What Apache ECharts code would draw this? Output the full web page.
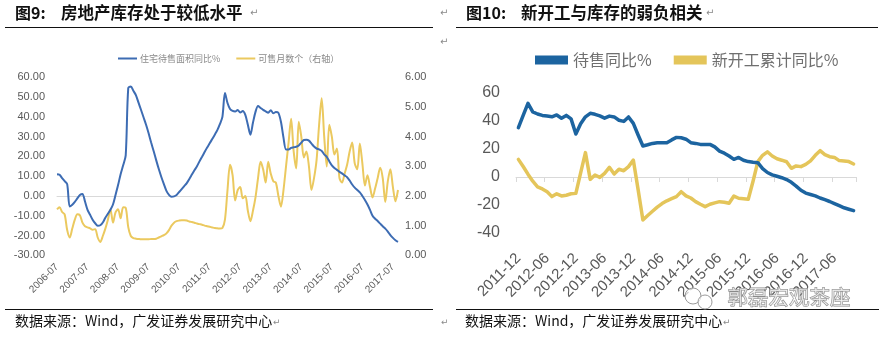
<!DOCTYPE html>
<html><head><meta charset="utf-8">
<script src="https://cdn.jsdelivr.net/npm/echarts@6/dist/echarts.min.js"></script>
<style>html,body{margin:0;padding:0;background:#fff}#c{width:879px;height:337px}</style>
</head><body><div id="c"></div>
<script>
// ---------- data ----------
function monthRange(y, m, n) {
  const out = [];
  for (let k = 0; k < n; k++) {
    const mm = m + k, yy = y + Math.floor((mm - 1) / 12), mo = ((mm - 1) % 12) + 1;
    out.push(yy + '-' + (mo < 10 ? '0' : '') + mo);
  }
  return out;
}
// Fig 9 categories: 2006-07 .. 2017-09 (monthly)
const leftMonths = monthRange(2006, 7, 135);
// 住宅待售面积同比 %  (left axis)
const inventoryYoY = [
  11, 10.7, 9, 7.5, 6, -5.3, -4.4, -3, -1.2, 0.5,
  1, -2.8, -7, -9.5, -12, -13.8, -15, -14.8, -13.4, -11,
  -9, -7, -4.3, 0.5, 5.5, 11, 15.5, 20.5, 54.5, 55.4,
  53.2, 51, 47.3, 43.6, 39.8, 36, 31.7, 27, 22.6, 18,
  13.6, 9.6, 6, 2.6, 0.6, -0.4, -0.2, 0.5, 2, 3.5,
  5, 6.5, 8.6, 10.8, 13, 15, 17.5, 19.8, 22.2, 24.5,
  26.6, 28.8, 31, 33.3, 36.3, 40, 52, 47, 44, 43,
  42.7, 43.5, 42.2, 43, 41, 36, 31, 37, 42.5, 45.5,
  44.5, 43.5, 42.8, 42.1, 43.4, 41.8, 42.4, 42, 37.5, 29.5,
  23.5, 23.5, 24.3, 24.6, 24.9, 25.5, 27, 28.3, 28.4, 28,
  26.5, 25, 24, 23.6, 22.8, 21, 19.8, 17.5, 15.5, 14.2,
  13.2, 12.2, 11.4, 10.4, 9.5, 7.8, 5.8, 4.2, 3, 1.8,
  0, -2, -4.3, -7, -10, -11.5, -12.7, -14, -15.3, -16.5,
  -18, -19.8, -21.2, -22.4, -23.2
];
// 可售月数 个 (right axis)
const monthsOfSupply = [
  1.55, 1.62, 1.46, 1.38, 0.85, 0.6, 0.9, 1.2, 1.38, 1.35,
  1.1, 0.98, 0.94, 0.91, 0.86, 0.88, 0.6, 0.45, 0.65, 0.9,
  1.2, 1.55, 1.1, 1.45, 1.55, 1.25, 1.62, 1.6, 0.95, 0.65,
  0.58, 0.56, 0.55, 0.54, 0.54, 0.54, 0.54, 0.55, 0.55, 0.56,
  0.6, 0.64, 0.68, 0.74, 0.85, 1.0, 1.1, 1.15, 1.17, 1.18,
  1.18, 1.17, 1.14, 1.12, 1.1, 1.07, 1.05, 1.03, 1.0, 0.98,
  0.96, 0.94, 0.92, 0.91, 0.9, 0.92, 1.2, 2.2, 3.05, 2.7,
  1.85, 2.2, 2.3, 1.92, 2.0, 1.5, 1.15, 1.5, 1.95, 2.6,
  3.15, 2.9, 2.45, 3.15, 2.75, 2.5, 2.45, 2.0, 1.64, 2.2,
  3.0, 3.8, 4.6, 3.5, 2.93, 4.5, 4.0, 3.3, 3.5, 3.0,
  2.2, 2.6, 3.21, 4.4, 5.29, 4.0, 2.99, 4.4, 4.0, 3.4,
  3.6, 2.6, 2.45, 2.75, 3.05, 3.5, 3.8, 3.1, 2.9, 3.77,
  3.1, 2.35, 2.7, 2.3, 1.95, 2.25, 2.6, 2.95, 2.6, 1.8,
  2.5, 2.9, 2.3, 1.82, 2.2
];
// Fig 10 categories: 2011-12 .. 2017-10 (monthly)
const rightMonths = monthRange(2011, 12, 71);
// 待售同比 %
const stockYoY = [
  35.2, 44, 52.6, 46.5, 45, 44, 43.5, 43, 44.3, 42,
  44, 41.5, 30.7, 38, 43, 45.5, 44.8, 43.6, 42, 43.5,
  42.9, 40.5, 39.7, 42.9, 38.3, 30, 22.1, 23, 24, 24.5,
  24.5, 24.5, 26.5, 28.3, 28, 27, 24.5, 24, 23.3, 23.3,
  23.3, 21.5, 18.5, 17, 15, 12.6, 14, 12, 11, 10.5,
  10.2, 6, 3.2, 1.5, 0.5, -0.5, -1.8, -3.8, -6.5, -9.5,
  -11.5, -12.5, -13.5, -15, -16.2, -17.5, -19, -20.5, -22, -23,
  -24
];
// 新开工累计同比 %
const newStartsYoY = [
  12.6, 7.5, 2, -3, -7, -8.5, -10.5, -14, -12, -13.5,
  -13, -12, -11.7, 3, 17.4, -1.7, 1.4, -0.3, 2.6, 6.9,
  2.1, 5.5, 4.5, 7.4, 12.1, -9, -30.7, -27.5, -24.5, -21.5,
  -19, -17, -15.5, -14, -10.5, -13.5, -15, -17.6, -19.5, -21.2,
  -19.5, -18.5, -17.6, -18, -18.8, -13.6, -15.2, -15.5, -15.9, -3,
  11, 15.5, 18, 15, 13, 12, 10.9, 6.2, 7.9, 7.4,
  9, 11.5, 15.5, 18.8, 16, 14.5, 14, 11.7, 11.5, 11,
  9.3
];
const leftSeriesNames = ['住宅待售面积同比%', '可售月数个（右轴）'];
const rightSeriesNames = ['待售同比%', '新开工累计同比%'];
const titlePrefixes = ['图9:', '图10:'];
const titles = ['房地产库存处于较低水平', '新开工与库存的弱负相关'];
const sourceText = '数据来源：Wind，广发证券发展研究中心';
const watermark = '郭磊宏观茶座';

// ---------- chart ----------
const chart = echarts.init(document.getElementById('c'), null, {renderer: 'canvas', width: 879, height: 337});
const FONT = 'Liberation Sans, Arial, Noto Sans CJK SC, sans-serif';
const CJK = 'Noto Sans CJK SC, sans-serif';
const L_BLUE = '#3d6cb3', L_YEL = '#ebc95f', R_BLUE = '#1c64a0', R_YEL = '#e4c55a';
const retMark = (x, y, size) => ({type: 'text', left: x, top: y,
  style: {text: '↵', font: size + 'px DejaVu Sans', fill: '#8a8a8a'}});

const option = {
  backgroundColor: '#fff',
  animation: false,
  grid: [
    {left: 57, top: 77.3, width: 341, height: 178, containLabel: false, outerBoundsMode: 'none'},
    {left: 516, top: 93, width: 340, height: 140, containLabel: false, outerBoundsMode: 'none'}
  ],
  legend: [
    {data: leftSeriesNames, left: 113, top: 49, itemWidth: 19, itemHeight: 2, itemGap: 16, icon: 'rect',
     textStyle: {fontSize: 9, color: '#8a8a8a', fontFamily: CJK, padding: [0, 0, 0, -2]}},
    {data: rightSeriesNames, left: 530, top: 47, itemWidth: 33, itemHeight: 9, itemGap: 22, icon: 'rect',
     textStyle: {fontSize: 16, color: '#6f6f6f', fontFamily: CJK}}
  ],
  xAxis: [
    {gridIndex: 0, type: 'category', data: leftMonths, boundaryGap: false,
     axisLine: {onZero: true, lineStyle: {color: '#d9d9d9', width: 1}},
     axisTick: {show: false},
     axisLabel: {interval: 11, rotate: 45, margin: 10, fontSize: 10, color: '#595959', fontFamily: FONT},
     splitLine: {show: false}},
    {gridIndex: 1, type: 'category', data: rightMonths, boundaryGap: true,
     axisLine: {onZero: true, lineStyle: {color: '#d9d9d9', width: 1}},
     axisTick: {show: true, interval: 5, length: 5, lineStyle: {color: '#d9d9d9'}},
     axisLabel: {interval: 5, rotate: 45, margin: 23, fontSize: 15, color: '#595959', fontFamily: FONT},
     splitLine: {show: false}}
  ],
  yAxis: [
    {gridIndex: 0, type: 'value', min: -30, max: 60, interval: 10,
     axisLine: {show: false}, axisTick: {show: false}, splitLine: {show: false},
     axisLabel: {formatter: v => v.toFixed(2), fontSize: 11, color: '#595959', margin: 12, fontFamily: FONT}},
    {gridIndex: 0, type: 'value', position: 'right', min: 0, max: 6, interval: 1,
     axisLine: {show: false}, axisTick: {show: false}, splitLine: {show: false},
     axisLabel: {formatter: v => v.toFixed(2), fontSize: 11, color: '#595959', margin: 7, fontFamily: FONT}},
    {gridIndex: 1, type: 'value', min: -40, max: 60, interval: 20,
     axisLine: {show: false}, axisTick: {show: false}, splitLine: {show: false},
     axisLabel: {fontSize: 16, color: '#595959', margin: 16, fontFamily: FONT}}
  ],
  series: [
    {name: leftSeriesNames[0], type: 'line', xAxisIndex: 0, yAxisIndex: 0, data: inventoryYoY,
     smooth: 0.3, showSymbol: false, lineStyle: {color: L_BLUE, width: 2}, itemStyle: {color: L_BLUE}, z: 3},
    {name: leftSeriesNames[1], type: 'line', xAxisIndex: 0, yAxisIndex: 1, data: monthsOfSupply,
     smooth: 0.3, showSymbol: false, lineStyle: {color: L_YEL, width: 2}, itemStyle: {color: L_YEL}, z: 2},
    {name: rightSeriesNames[0], type: 'line', xAxisIndex: 1, yAxisIndex: 2, data: stockYoY,
     showSymbol: false, lineStyle: {color: R_BLUE, width: 3.5, join: 'round', cap: 'round'}, itemStyle: {color: R_BLUE}, z: 3},
    {name: rightSeriesNames[1], type: 'line', xAxisIndex: 1, yAxisIndex: 2, data: newStartsYoY,
     showSymbol: false, lineStyle: {color: R_YEL, width: 3.5, join: 'round', cap: 'round'}, itemStyle: {color: R_YEL}, z: 2}
  ],
  graphic: [
    {type: 'text', left: 15, top: 5, style: {text: titlePrefixes[0], font: 'bold 16px ' + CJK, fill: '#111'}},
    {type: 'text', left: 61, top: 4.5, style: {text: titles[0], font: 'bold 16.5px ' + CJK, fill: '#111'}},
    {type: 'text', left: 466, top: 5, style: {text: titlePrefixes[1], font: 'bold 16px ' + CJK, fill: '#111'}},
    {type: 'text', left: 521, top: 4.5, style: {text: titles[1], font: 'bold 16.5px ' + CJK, fill: '#111'}},
    retMark(250, 8, 10), retMark(706, 8, 10), retMark(440, 8, 10), retMark(440, 37, 10),
    {type: 'line', shape: {x1: 5, y1: 27.5, x2: 433, y2: 27.5}, style: {stroke: '#111', lineWidth: 1}},
    {type: 'line', shape: {x1: 456, y1: 27.5, x2: 878, y2: 27.5}, style: {stroke: '#111', lineWidth: 1}},
    {type: 'line', shape: {x1: 5, y1: 309.5, x2: 433, y2: 309.5}, style: {stroke: '#111', lineWidth: 1}},
    {type: 'line', shape: {x1: 456, y1: 309.5, x2: 879, y2: 309.5}, style: {stroke: '#111', lineWidth: 1}},
    {type: 'text', left: 15, top: 314, style: {text: sourceText, font: '14px ' + CJK, fill: '#111'}},
    {type: 'text', left: 465, top: 314, style: {text: sourceText, font: '14px ' + CJK, fill: '#111'}},
    retMark(273, 318, 9), retMark(723, 318, 9), retMark(441, 318, 9),
    // watermark
    {type: 'circle', shape: {cx: 693, cy: 296, r: 8}, style: {fill: 'rgba(255,255,255,0.7)', stroke: '#9a9a9a', lineWidth: 1}, z: 100},
    {type: 'circle', shape: {cx: 705, cy: 302, r: 7}, style: {fill: 'rgba(255,255,255,0.7)', stroke: '#9a9a9a', lineWidth: 1}, z: 100},
    {type: 'text', left: 727, top: 286, z: 100, style: {text: watermark, font: '20.5px ' + CJK, fill: 'rgba(255,255,255,0.6)', stroke: '#8a8a8a', lineWidth: 1}}
  ]
};
chart.setOption(option);
</script></body></html>
